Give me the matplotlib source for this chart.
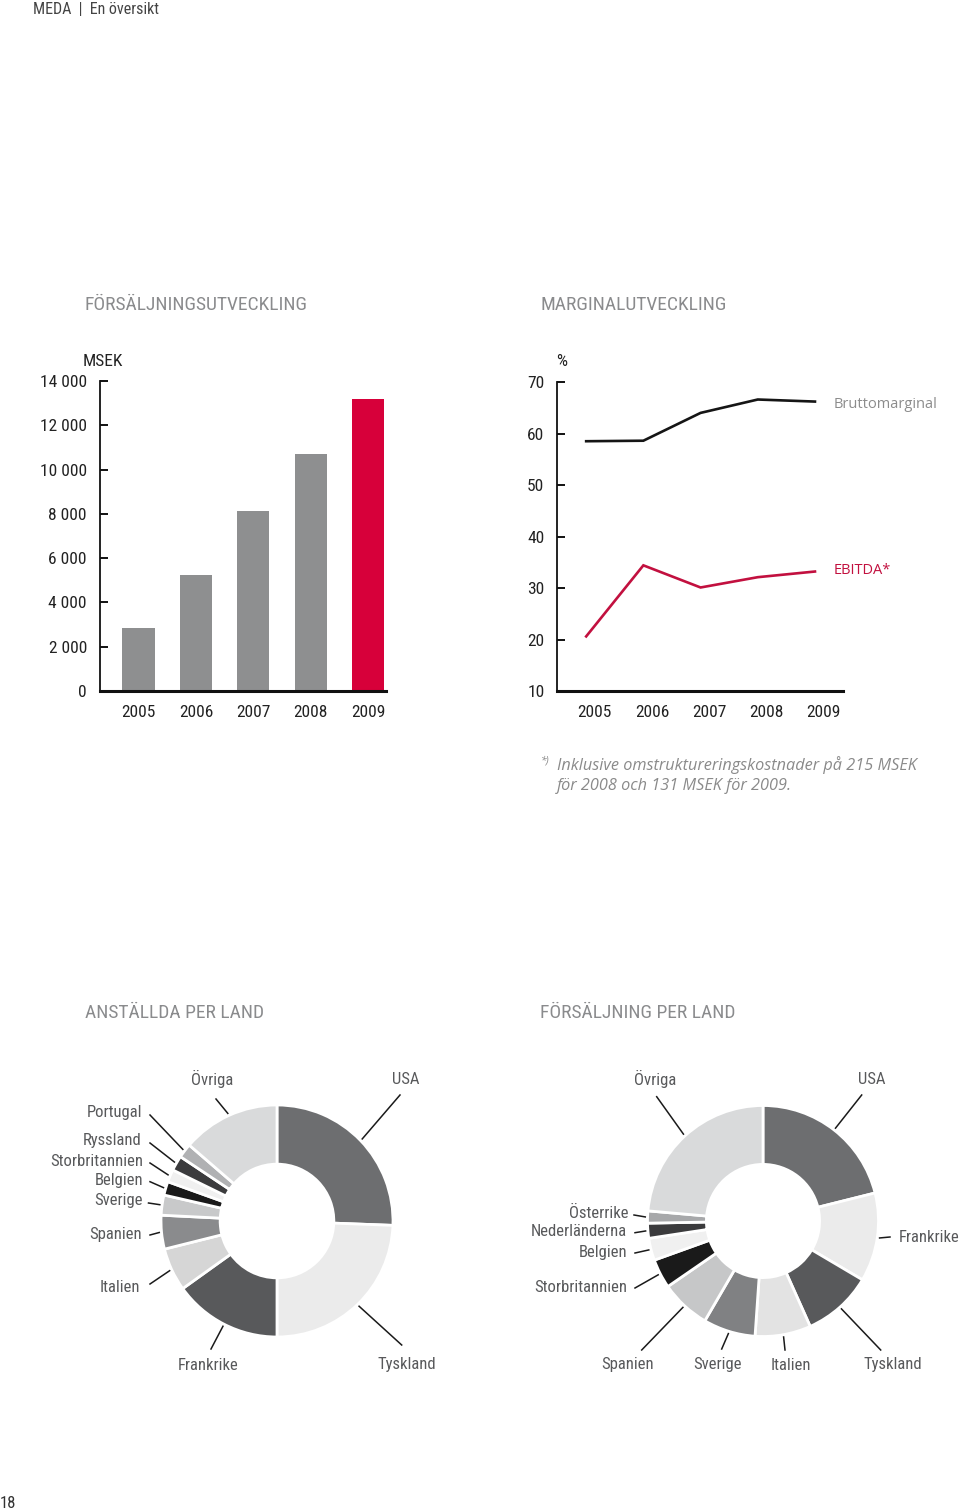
import matplotlib
matplotlib.use("Agg")
import matplotlib.pyplot as plt
from matplotlib.lines import Line2D
import numpy as np

W, H = 960, 1512

# ---- data ----
years = ["2005", "2006", "2007", "2008", "2009"]
sales = [2850, 5260, 8140, 10690, 13190]  # MSEK

gross_margin = [58.5, 58.6, 64.0, 66.6, 66.2]  # %
ebitda = [20.6, 34.4, 30.1, 32.1, 33.2]  # %

emp_countries = ["USA", "Tyskland", "Frankrike", "Italien", "Spanien", "Sverige",
                 "Belgien", "Storbritannien", "Ryssland", "Portugal", "Övriga"]
emp_share = [25.6, 24.4, 15.1, 6.0, 4.7, 2.8, 1.9, 1.75, 2.1, 2.0, 13.65]

sal_countries = ["USA", "Frankrike", "Tyskland", "Italien", "Sverige", "Spanien",
                 "Storbritannien", "Belgien", "Nederländerna", "Österrike", "Övriga"]
sal_share = [21.1, 12.4, 9.8, 7.8, 7.3, 7.0, 4.1, 3.1, 2.1, 1.7, 23.6]

# ---- style ----
NARROW = ["Roboto Condensed", "DejaVu Sans"]
WIDE = ["Open Sans", "DejaVu Sans"]
plt.rcParams["font.family"] = NARROW

BAR_GRAY = "#8e8f90"
RED = "#d7003a"
CRIMSON = "#c2103f"
TITLE_GRAY = "#8a8b8d"
LABEL_GRAY = "#58595b"
INK = "#222222"

emp_colors = ["#6d6e70", "#ebebeb", "#58595b", "#d6d6d6", "#8a8b8d", "#c8c9ca",
              "#1a1a1a", "#f0f0f0", "#3b3b3d", "#b0b1b3", "#d9dadb"]
sal_colors = ["#6d6e70", "#ebebeb", "#58595b", "#e3e3e3", "#808183", "#c6c7c8",
              "#1a1a1a", "#f0f0f0", "#3b3b3d", "#a7a8aa", "#d9dadb"]

# label layout: text x, text y, alignment, leader line outer end x, y (pixels, top-left origin)
emp_layout = {
    "USA": (406, 1079, "center", 400, 1095),
    "Tyskland": (407, 1365, "center", 401.7, 1345),
    "Frankrike": (208, 1365, "center", 211, 1349),
    "Italien": (140, 1287, "right", 150, 1284),
    "Spanien": (142, 1234, "right", 150, 1235),
    "Sverige": (143, 1200.5, "right", 148.5, 1203),
    "Belgien": (143, 1180, "right", 150, 1181.7),
    "Storbritannien": (143, 1161.5, "right", 150, 1163),
    "Ryssland": (142, 1141, "right", 150, 1143),
    "Portugal": (142, 1113, "right", 150, 1115),
    "Övriga": (212, 1079, "center", 216, 1099),
}
sal_layout = {
    "USA": (872, 1079, "center", 861.7, 1095),
    "Frankrike": (899, 1238, "left", 890, 1237),
    "Tyskland": (893, 1365, "center", 880.7, 1350),
    "Italien": (791, 1365, "center", 785, 1350),
    "Sverige": (717, 1365, "center", 721.7, 1349),
    "Spanien": (628, 1365, "center", 641.7, 1350),
    "Storbritannien": (627, 1287, "right", 635, 1288),
    "Belgien": (627, 1253, "right", 635, 1253),
    "Nederländerna": (627, 1232, "right", 635, 1232.7),
    "Österrike": (628, 1213, "right", 634, 1215),
    "Övriga": (655, 1079, "center", 656.7, 1096.7),
}

fig = plt.figure(figsize=(W / 100, H / 100), dpi=100)


def fxy(x, y):
    return x / W, 1 - y / H


def add_ax(x0, y0, x1, y1):
    return fig.add_axes([x0 / W, 1 - y1 / H, (x1 - x0) / W, (y1 - y0) / H])


def ftext(x, y, s, **kw):
    fx, fy = fxy(x, y)
    return fig.text(fx, fy, s, **kw)


def style_axes(ax):
    for s in ["top", "right"]:
        ax.spines[s].set_visible(False)
    ax.spines["bottom"].set_linewidth(2.2)
    ax.spines["left"].set_linewidth(1.3)
    ax.spines["bottom"].set_color("#111111")
    ax.spines["left"].set_color("#111111")
    ax.patch.set_alpha(0)
    ax.tick_params(axis="y", direction="in", length=6, width=1.4, pad=9,
                   labelsize=12.5, colors="#111111", labelcolor=INK)
    ax.tick_params(axis="x", length=0, pad=10, labelsize=12.5, labelcolor=INK)


# header and page number
ftext(33, 10, "MEDA  |  En översikt", fontsize=11.5, color="#444444", va="center")
ftext(0, 1503, "18", fontsize=12, color="#333333", va="center")

# section titles
for x, y, s in [(85, 305, "FÖRSÄLJNINGSUTVECKLING"), (540, 305, "MARGINALUTVECKLING"),
                (85, 1013, "ANSTÄLLDA PER LAND"), (540, 1013, "FÖRSÄLJNING PER LAND")]:
    ftext(x, y, s, fontsize=14, color=TITLE_GRAY, va="center")

# ---- sales bars ----
ax = add_ax(99.5, 381, 386, 691)
x = np.arange(len(years))
ax.bar(x, sales, width=0.56, color=[BAR_GRAY] * 4 + [RED], zorder=1)
ax.set_xlim(-0.68, 4.31)
ax.set_ylim(0, 14000)
yt = list(range(0, 14001, 2000))
ax.set_yticks(yt)
ax.set_yticklabels([f"{v:,}".replace(",", " ") for v in yt])
ax.set_xticks(x)
ax.set_xticklabels(years)
style_axes(ax)
ftext(83, 362, "MSEK", fontsize=12.5, color=INK, va="center")

# ---- margin lines ----
ax2 = add_ax(557, 382, 843, 691)
ax2.plot(x, gross_margin, color="#151515", lw=1.9, solid_joinstyle="miter")
ax2.plot(x, ebitda, color=CRIMSON, lw=1.9, solid_joinstyle="miter")
ax2.set_xlim(-0.51, 4.49)
ax2.set_ylim(10, 70)
ax2.set_yticks(range(10, 71, 10))
ax2.set_xticks(x + 0.15)
ax2.set_xticklabels(years)
style_axes(ax2)
ftext(562, 362, "%", fontsize=12.5, color=INK, va="center", ha="center")
ftext(834, 405, "Bruttomarginal", fontsize=10.5, color="#8c8c8c", va="center", family=WIDE)
ftext(834, 570, "EBITDA*", fontsize=10.5, color=CRIMSON, va="center", family=WIDE)

# footnote
ftext(541, 761, "*)", fontsize=7.5, color="#8a8a8a", va="center", style="italic", family=WIDE)
ftext(557, 765, "Inklusive omstruktureringskostnader på 215 MSEK", fontsize=11.7,
      color="#8a8a8a", va="center", style="italic", family=WIDE)
ftext(557, 786, "för 2008 och 131 MSEK för 2009.", fontsize=11.7,
      color="#8a8a8a", va="center", style="italic", family=WIDE)


# ---- donuts ----
def donut(cx, cy, r_px, shares, colors, names, layout):
    half = 140
    dax = add_ax(cx - half, cy - half, cx + half, cy + half)
    wedges, _ = dax.pie(shares, colors=colors, startangle=90, counterclock=False,
                        radius=1, wedgeprops=dict(width=0.51, edgecolor="white", linewidth=2))
    lim = half / r_px
    dax.set_xlim(-lim, lim)
    dax.set_ylim(-lim, lim)
    dax.set_aspect("equal")
    dax.axis("off")
    for w, name in zip(wedges, names):
        tx, ty, ha, lx, ly = layout[name]
        mid = np.deg2rad((w.theta1 + w.theta2) / 2)
        ix = cx + 1.02 * r_px * np.cos(mid)
        iy = cy - 1.02 * r_px * np.sin(mid)
        (ax0, ay0), (ax1, ay1) = fxy(ix, iy), fxy(lx, ly)
        fig.add_artist(Line2D([ax0, ax1], [ay0, ay1], transform=fig.transFigure,
                              color="#1a1a1a", lw=1.1))
        ftext(tx, ty, name, fontsize=12, color=LABEL_GRAY, ha=ha, va="center")


donut(277, 1221, 116, emp_share, emp_colors, emp_countries, emp_layout)
donut(763, 1221, 115.5, sal_share, sal_colors, sal_countries, sal_layout)

fig.savefig("out.png", dpi=100, facecolor="white")
